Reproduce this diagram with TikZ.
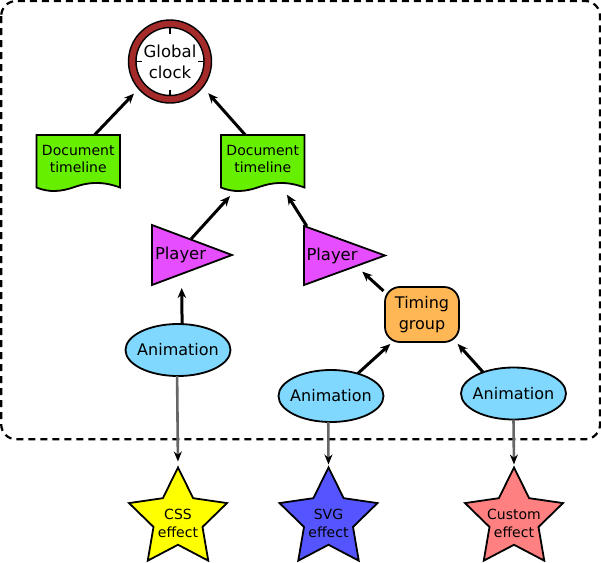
\documentclass[tikz,border=0pt]{standalone}
\usepackage{fontspec}
\setmainfont{DejaVu Sans}
\usetikzlibrary{arrows.meta,shapes.geometric,backgrounds,calc}
\definecolor{ringc}{HTML}{A52A2A}
\definecolor{docc}{HTML}{66F000}
\definecolor{playerc}{HTML}{E64DFF}
\definecolor{animc}{HTML}{80D8FF}
\definecolor{timingc}{HTML}{FFB655}
\definecolor{cssc}{HTML}{FFFF00}
\definecolor{svgc}{HTML}{5555FF}
\definecolor{customc}{HTML}{FF8080}
\definecolor{greyc}{HTML}{666666}
\tikzset{
  x=1pt,y=-1pt,
  outln/.style={line width=1.8pt,draw=black,line join=miter},
  ringln/.style={line width=1.4pt,draw=black},
  frameline/.style={line width=2.2pt,dash pattern=on 7pt off 5pt,rounded corners=15pt},
  clocknode/.style={circle,minimum size=84pt,inner sep=0pt,outer sep=0pt,align=center,font=\fontsize{16.5}{21}\selectfont},
  docnode/.style={rectangle,minimum width=83.5pt,minimum height=48pt,inner sep=0pt,outer sep=0pt,align=center,font=\fontsize{14}{17.5}\selectfont},
  playernode/.style={rectangle,minimum height=60pt,inner sep=0pt,outer sep=0pt,align=left,font=\fontsize{16.4}{20}\selectfont},
  animnode/.style={ellipse,outln,fill=animc,minimum width=105pt,minimum height=52pt,inner sep=0pt,outer sep=0pt,font=\fontsize{16}{20}\selectfont},
  timingnode/.style={rectangle,outln,fill=timingc,rounded corners=15pt,minimum width=74pt,minimum height=55pt,inner sep=0pt,outer sep=0pt,align=center,font=\fontsize{16}{21}\selectfont},
  starnode/.style={star,star points=5,star point ratio=2,outln,minimum size=103pt,inner sep=0pt,outer sep=0pt},
  startext/.style={align=center,inner sep=0pt,font=\fontsize{14}{18}\selectfont},
  strong/.style={line width=3pt,-{Stealth[length=10pt,width=8.5pt]}},
  weak/.style={line width=2.6pt,draw=greyc,-{Stealth[length=10pt,width=8pt,black]}},
}
\newcommand{\docback}[1]{%
  \draw[outln,fill=docc] (#1.north west) -- ($(#1.south west)+(0,4.5)$)
    .. controls ($(#1.south west)+(12,9.5)$) and ($(#1.south west)+(24,9)$) .. ($(#1.south west)+(38,4)$)
    .. controls ($(#1.south west)+(52,-1)$) and ($(#1.south west)+(66,-2)$) .. ($(#1.south east)+(0,4.5)$)
    -- (#1.north east) -- cycle;}
\newcommand{\playerback}[1]{%
  \draw[outln,fill=playerc] (#1.north west) -- (#1.east) -- (#1.south west) -- cycle;}
\newcommand{\animtext}{\makebox[0pt]{Animation}}
\begin{document}
\begin{tikzpicture}
\path[use as bounding box] (0,0) rectangle (601,562);
\draw[frameline] (1.2,1) rectangle (600,439.3);

\node[clocknode] (clock) at (170,61.5) {Global\\clock};
\node[docnode] (doca) at (78.25,159) {Document\\timeline};
\node[docnode] (docb) at (262.75,159) {Document\\timeline};
\node[playernode,minimum width=80pt,text width=80pt] (playa) at (192,255) {\hspace*{3pt}Player};
\node[playernode,minimum width=81pt,text width=81pt,minimum height=59pt] (playb) at (344.5,255.5) {\hspace*{2.5pt}Player};
\node[timingnode] (timing) at (422,314.5) {Timing\\group};
\node[animnode] (anima) at (178,350) {\animtext};
\node[animnode] (animb) at (331,396) {\animtext};
\node[animnode] (animc) at (513.5,393.5) {\animtext};
\node[starnode,fill=cssc] (css) at (178,519) {};
\node[starnode,fill=svgc] (svg) at (328.5,519) {};
\node[starnode,fill=customc] (custom) at (514,519) {};
\node[startext] (csst) at (178,523) {CSS\\effect};
\node[startext] (svgt) at (328.5,523) {SVG\\effect};
\node[startext] (customt) at (514,523) {Custom\\effect};

\begin{scope}[on background layer]
  \draw[ringln,fill=ringc] (clock.center) circle[radius=41.5];
  \draw[ringln,fill=white] (clock.center) circle[radius=34];
  \foreach \a in {0,90,180,270}
    \draw[line width=1.4pt] ($(clock.center)+(\a:34)$) -- ($(clock.center)+(\a:28)$);
  \docback{doca}
  \docback{docb}
  \playerback{playa}
  \playerback{playb}
\end{scope}

\draw[strong,shorten >=6.3pt] (doca.56.7) -- (clock.221);
\draw[strong,shorten >=7.8pt] (docb.126.5) -- (clock.322);
\draw[strong,shorten <=58pt,shorten >=17.7pt] (playa.214) -- (docb.229.2);
\draw[strong,shorten >=13.9pt] (playb.142.5) -- (docb.305.5);
\draw[strong,shorten >=3pt] (anima.81.3) -- (playa.251.6);
\draw[strong,shorten <=2pt,shorten >=24pt] (timing.149.6) -- (playb.center);
\draw[strong,shorten >=3pt] (animb.40.4) -- (timing.223.8);
\draw[strong,shorten >=2.6pt] (animc.145.7) -- (timing.321.3);
\draw[weak,shorten >=6pt] (anima.268) -- (css.north);
\draw[weak,shorten >=3pt] (animb.264) -- (svg.north);
\draw[weak,shorten >=3pt] (animc.south) -- (custom.north);
\end{tikzpicture}
\end{document}
